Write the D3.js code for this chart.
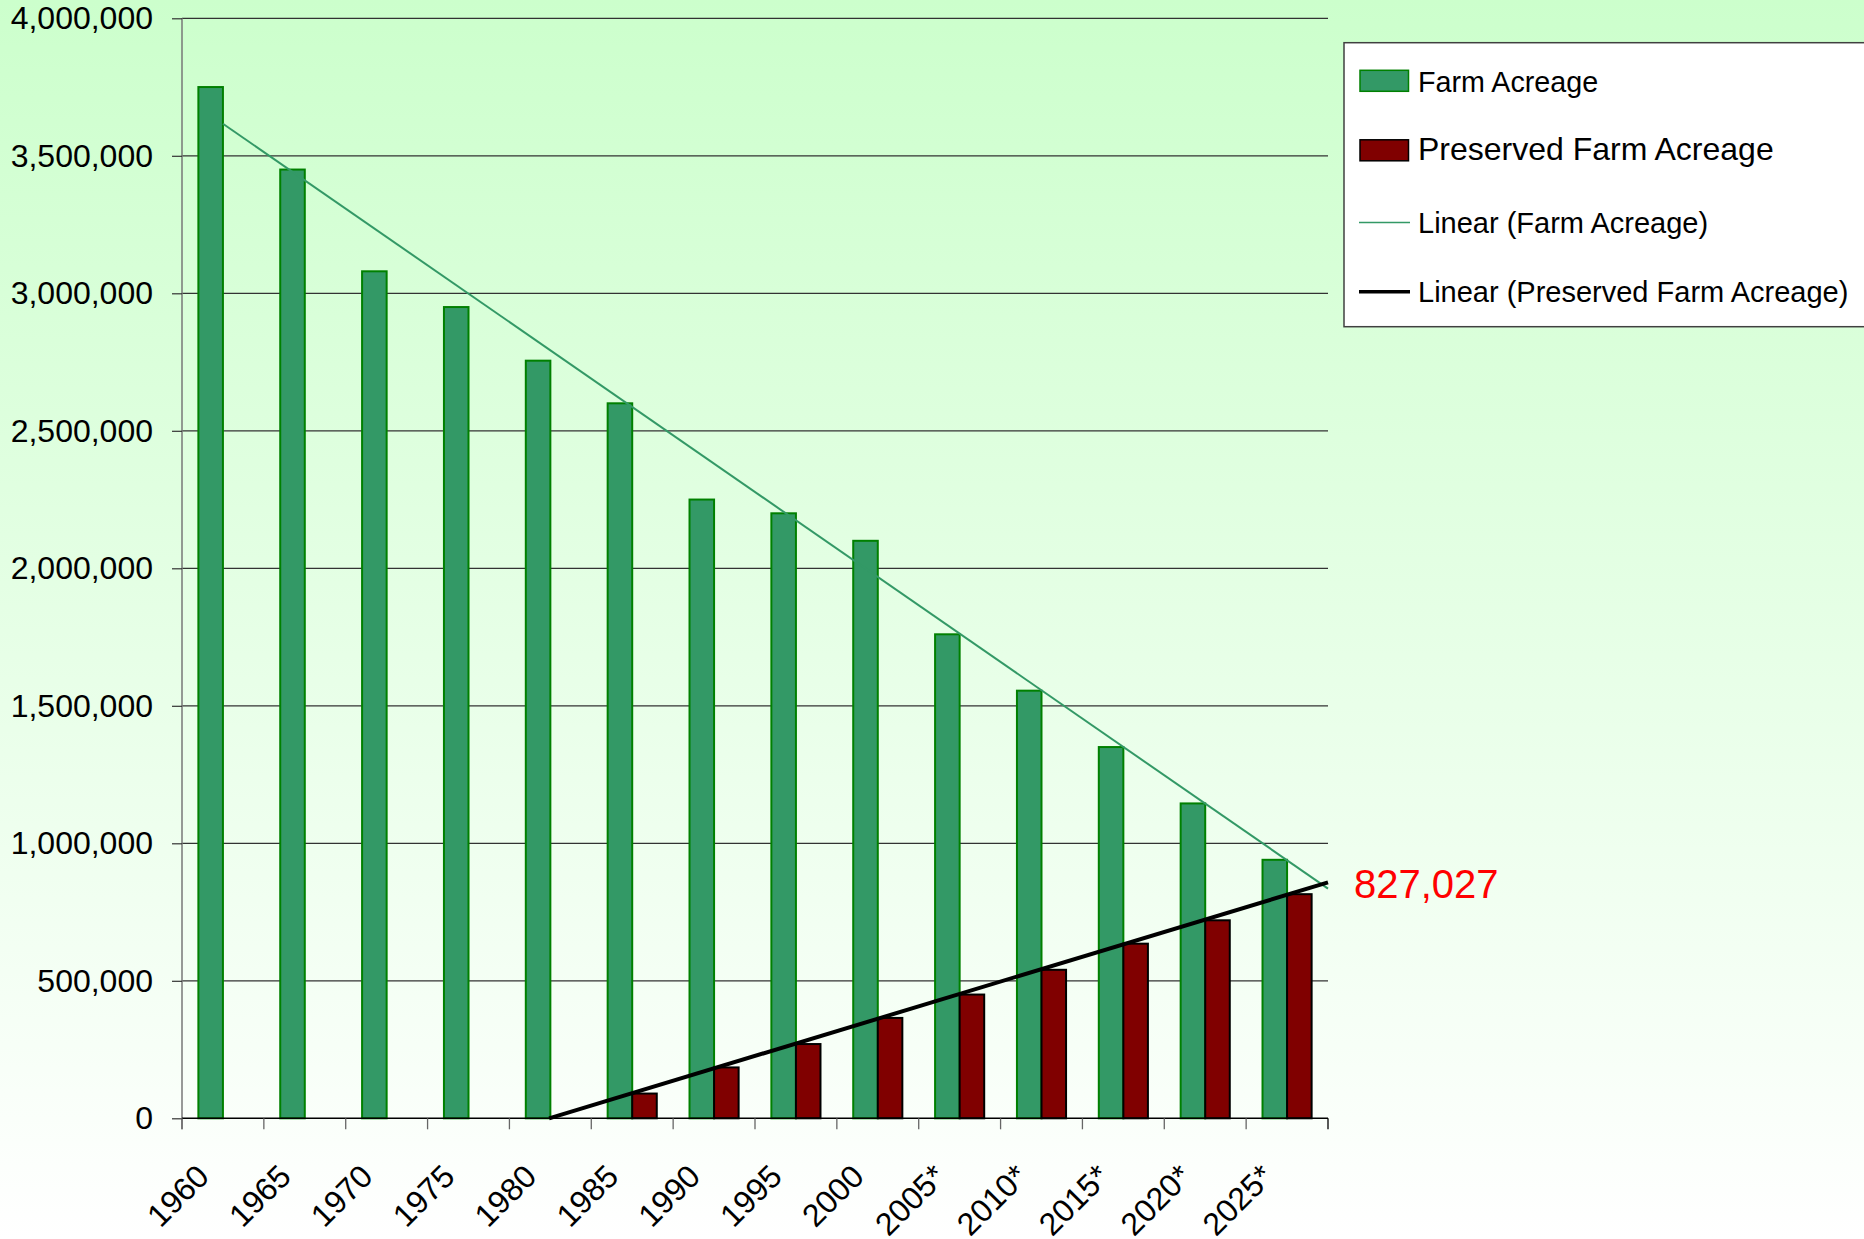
<!DOCTYPE html>
<html>
<head>
<meta charset="utf-8">
<script src="https://cdn.jsdelivr.net/npm/d3@7"></script>
<style>
  html, body { margin: 0; padding: 0; }
  body { width: 1864px; height: 1239px; overflow: hidden; }
  svg { display: block; font-family: "Liberation Sans", Arial, sans-serif; }
</style>
</head>
<body>
<svg id="chart" width="1864" height="1239"></svg>
<script>
// ---- Data ----
const categories = ["1960","1965","1970","1975","1980","1985","1990","1995","2000","2005*","2010*","2015*","2020*","2025*"];
const farmAcreage = [3750000,3450000,3080000,2950000,2755000,2600000,2250000,2200000,2100000,1760000,1555000,1350000,1145000,940000];
const preservedAcreage = [null,null,null,null,null,90000,185000,270000,365000,450000,540000,635000,720000,815000];
const yTickValues = [0,500000,1000000,1500000,2000000,2500000,3000000,3500000,4000000];
const seriesNames = ["Farm Acreage","Preserved Farm Acreage"];
const trendNames = ["Linear (Farm Acreage)","Linear (Preserved Farm Acreage)"];
const trendLabel = "827,027";

// ---- Layout ----
const W = 1864, H = 1239;
const plot = {left: 182, right: 1328, top: 18.3, bottom: 1118.3};

const svg = d3.select("#chart");
const defs = svg.append("defs");
const grad = defs.append("linearGradient").attr("id","bg").attr("x1",0).attr("y1",0).attr("x2",0).attr("y2",1);
grad.append("stop").attr("offset","0%").attr("stop-color","#ccffcc");
grad.append("stop").attr("offset","100%").attr("stop-color","#ffffff");
svg.append("rect").attr("width",W).attr("height",H).attr("fill","url(#bg)");

const x0 = d3.scaleBand().domain(categories).range([plot.left, plot.right]).paddingInner(0).paddingOuter(0);
const x1 = d3.scaleBand().domain(seriesNames).range([0, x0.bandwidth()]).paddingInner(0).paddingOuter(2/3);
const y = d3.scaleLinear().domain([0, 4000000]).range([plot.bottom, plot.top]);
const xt = d3.scaleLinear().domain([0.5, categories.length + 0.5]).range([plot.left, plot.right]);

// gridlines
svg.append("g").selectAll("line").data(yTickValues.filter(d => d > 0)).join("line")
  .attr("x1", plot.left).attr("x2", plot.right)
  .attr("y1", d => y(d)).attr("y2", d => y(d))
  .attr("stroke", "#333").attr("stroke-width", 1.2);

// y axis
const yAxis = d3.axisLeft(y).tickValues(yTickValues).tickSize(10).tickPadding(19)
  .tickFormat(d3.format(","));
const gy = svg.append("g").attr("transform", `translate(${plot.left},0)`).call(yAxis);
gy.select(".domain").attr("stroke", "#777").attr("stroke-width", 1.5).attr("d", `M0,${plot.top}V${plot.bottom + 11}`);
gy.selectAll(".tick line").attr("stroke", "#333").attr("stroke-width", 1.2);
gy.selectAll(".tick text").attr("font-size", 32).attr("fill", "#000")
  .attr("font-family", "\"Liberation Sans\", Arial, sans-serif");

// bars
const groups = svg.append("g").selectAll("g").data(categories).join("g")
  .attr("transform", d => `translate(${x0(d)},0)`);
groups.append("rect")
  .attr("x", x1(seriesNames[0])).attr("width", x1.bandwidth())
  .attr("y", (d,i) => y(farmAcreage[i])).attr("height", (d,i) => y(0) - y(farmAcreage[i]))
  .attr("fill", "#339966").attr("stroke", "#008000").attr("stroke-width", 2);
groups.filter((d,i) => preservedAcreage[i] != null).append("rect")
  .attr("x", x1(seriesNames[1])).attr("width", x1.bandwidth())
  .attr("y", d => y(preservedAcreage[categories.indexOf(d)]))
  .attr("height", d => y(0) - y(preservedAcreage[categories.indexOf(d)]))
  .attr("fill", "#800000").attr("stroke", "#000").attr("stroke-width", 2);

// x axis
const gx = svg.append("g").attr("transform", `translate(0,${plot.bottom})`);
gx.append("line").attr("x1", plot.left).attr("x2", plot.right).attr("y1",0).attr("y2",0)
  .attr("stroke","#000").attr("stroke-width",1.5);
const tickXs = d3.range(categories.length + 1).map(i => plot.left + i * x0.step());
gx.selectAll("line.tk").data(tickXs).join("line").attr("class","tk")
  .attr("x1", d => d).attr("x2", d => d).attr("y1", 0).attr("y2", 11)
  .attr("stroke", (d,i) => i === categories.length ? "#000" : "#666").attr("stroke-width", 1.3);
gx.selectAll("text").data(categories).join("text")
  .attr("transform", d => `translate(${x0(d) + x0.bandwidth()/2 - 12},60) rotate(-45)`)
  .attr("text-anchor", "end").attr("font-size", 32).attr("fill", "#000")
  .text(d => d);

// linear trendlines (least squares on category index)
function linFit(vals) {
  const pts = vals.map((v,i) => [i+1, v]).filter(p => p[1] != null);
  const mx = d3.mean(pts, p => p[0]), my = d3.mean(pts, p => p[1]);
  const sxy = d3.sum(pts, p => (p[0]-mx)*(p[1]-my));
  const sxx = d3.sum(pts, p => (p[0]-mx)*(p[0]-mx));
  const b = sxy / sxx, a = my - b*mx;
  return t => a + b*t;
}
const fFarm = linFit(farmAcreage);
const fPres = linFit(preservedAcreage);
const tEnd = categories.length + 0.5;
function clippedStart(f) {
  const f1 = f(1);
  if (f1 >= 0) return 1;
  const b = f(2) - f(1);
  return 1 + (0 - f1) / b;
}
const line = d3.line().x(d => xt(d[0])).y(d => y(d[1]));
const t0f = clippedStart(fFarm), t0p = clippedStart(fPres);
svg.append("path").datum([[t0f, fFarm(t0f)], [tEnd, fFarm(tEnd)]])
  .attr("d", line).attr("stroke", "#339966").attr("stroke-width", 2).attr("fill","none");
svg.append("path").datum([[t0p, fPres(t0p)], [tEnd, fPres(tEnd)]])
  .attr("d", line).attr("stroke", "#000").attr("stroke-width", 4).attr("fill","none");

// trend label
svg.append("text").attr("x", 1354).attr("y", 898).attr("font-size", 40).attr("fill", "#ff0000")
  .text(trendLabel);

// legend
const lg = svg.append("g");
lg.append("rect").attr("x", 1344).attr("y", 42.7).attr("width", 560).attr("height", 284)
  .attr("fill", "#fff").attr("stroke", "#404040").attr("stroke-width", 1.5);
const legendItems = [
  {name: seriesNames[0], type: "rect", fill: "#339966", stroke: "#008000", yc: 80.8, base: 91.5, fs: 28.7},
  {name: seriesNames[1], type: "rect", fill: "#800000", stroke: "#000", yc: 150.3, base: 160, fs: 32},
  {name: trendNames[0], type: "line", stroke: "#339966", sw: 1.5, yc: 222.5, base: 232.5, fs: 29},
  {name: trendNames[1], type: "line", stroke: "#000", sw: 3.5, yc: 291.8, base: 301.7, fs: 29}
];
legendItems.forEach(it => {
  if (it.type === "rect") {
    lg.append("rect").attr("x", 1360).attr("y", it.yc - 10.5).attr("width", 48.5).attr("height", 21)
      .attr("fill", it.fill).attr("stroke", it.stroke).attr("stroke-width", 1.5);
  } else {
    lg.append("line").attr("x1", 1359).attr("x2", 1410).attr("y1", it.yc).attr("y2", it.yc)
      .attr("stroke", it.stroke).attr("stroke-width", it.sw);
  }
  lg.append("text").attr("x", 1418).attr("y", it.base).attr("font-size", it.fs).attr("fill", "#000")
    .text(it.name);
});
</script>
</body>
</html>
